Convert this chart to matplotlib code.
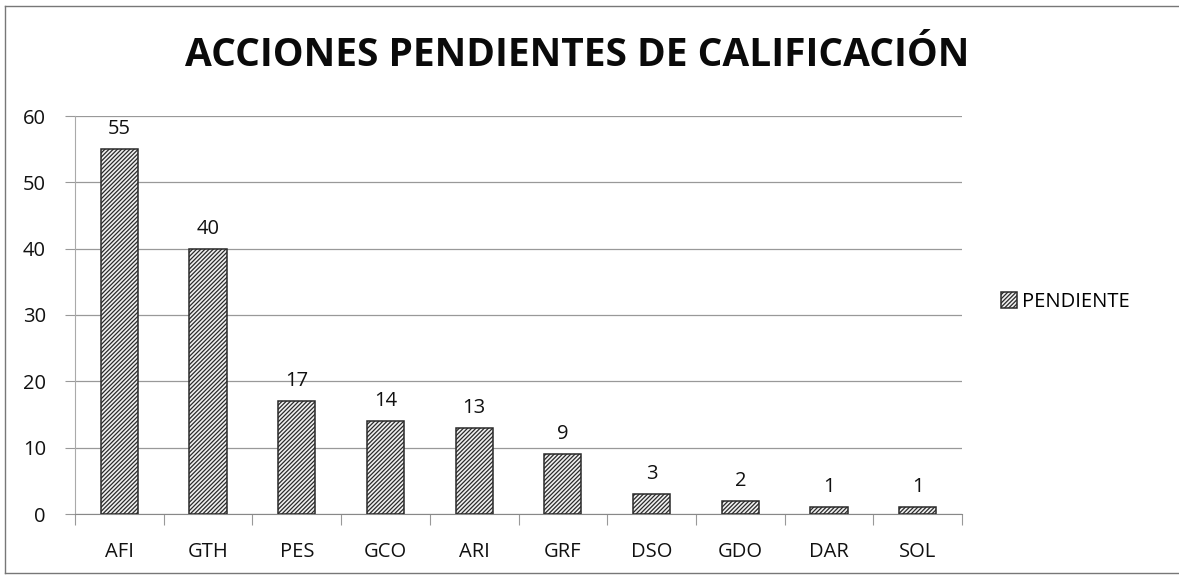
import matplotlib.pyplot as plt
from matplotlib.lines import Line2D
import numpy as np

# datos de la grafica
categorias = ['AFI', 'GTH', 'PES', 'GCO', 'ARI', 'GRF', 'DSO', 'GDO', 'DAR', 'SOL']
pendientes = [55, 40, 17, 14, 13, 9, 3, 2, 1, 1]
y_ticks = [0, 10, 20, 30, 40, 50, 60]

plt.rcParams['font.family'] = ['Open Sans', 'DejaVu Sans']
plt.rcParams['hatch.color'] = '#4a4a4a'
plt.rcParams['hatch.linewidth'] = 0.9

W, H = 1179, 580
fig = plt.figure(figsize=(W / 100, H / 100), dpi=100)
# area de trazado: x 75..962, y 116..514 (pixeles)
ax = fig.add_axes([75 / W, 1 - 514 / H, 887 / W, 398 / H])

x = np.arange(len(categorias))
ax.bar(x, pendientes, width=0.42, color='#f0f0f0', edgecolor='#2a2a2a',
       linewidth=1.1, hatch='////////', label='PENDIENTE', zorder=3)
for xi, v in zip(x, pendientes):
    ax.text(xi, v + 1.5, str(v), ha='center', va='bottom', fontsize=14.5, color='#111111')

ax.set_xlim(-0.5, len(categorias) - 0.5)
ax.set_ylim(0, 60)
ax.set_yticks(y_ticks)
ax.set_xticks(x)
ax.set_xticklabels(categorias)
ax.tick_params(axis='x', labelsize=14.5, colors='#111111', length=0, pad=20)
ax.tick_params(axis='y', labelsize=14.5, labelcolor='#111111', color='#999999',
               length=7, width=0.8, pad=14)
# marcas pequenas entre categorias
ax.set_xticks(np.arange(-0.5, len(categorias), 1), minor=True)
ax.tick_params(axis='x', which='minor', length=8, color='#999999', width=0.8)
ax.yaxis.grid(True, color='#999999', linewidth=0.9, zorder=0)
for s in ['top', 'right']:
    ax.spines[s].set_visible(False)
ax.spines['left'].set_color('#aaaaaa')
ax.spines['bottom'].set_color('#888888')

fig.text(577 / W, 1 - 56 / H, 'ACCIONES PENDIENTES DE CALIFICACIÓN',
         ha='center', va='center', fontsize=28, fontweight='bold', color='#0a0a0a')

ax.legend(loc='center left', bbox_to_anchor=(1001 / W, 1 - 302 / H),
          bbox_transform=fig.transFigure, frameon=False, fontsize=14.5,
          handlelength=0.8, handleheight=0.8, handletextpad=0.25, borderpad=0,
          borderaxespad=0)

# marco exterior (el borde derecho queda fuera de la imagen)
borde = dict(color='#777777', linewidth=1.0, transform=fig.transFigure)
fig.add_artist(Line2D([5 / W, 5 / W], [1 - 6 / H, 1 - 573 / H], **borde))
fig.add_artist(Line2D([5 / W, 1.0], [1 - 6 / H, 1 - 6 / H], **borde))
fig.add_artist(Line2D([5 / W, 1.0], [1 - 573 / H, 1 - 573 / H], **borde))

fig.savefig('out.png', dpi=100)
